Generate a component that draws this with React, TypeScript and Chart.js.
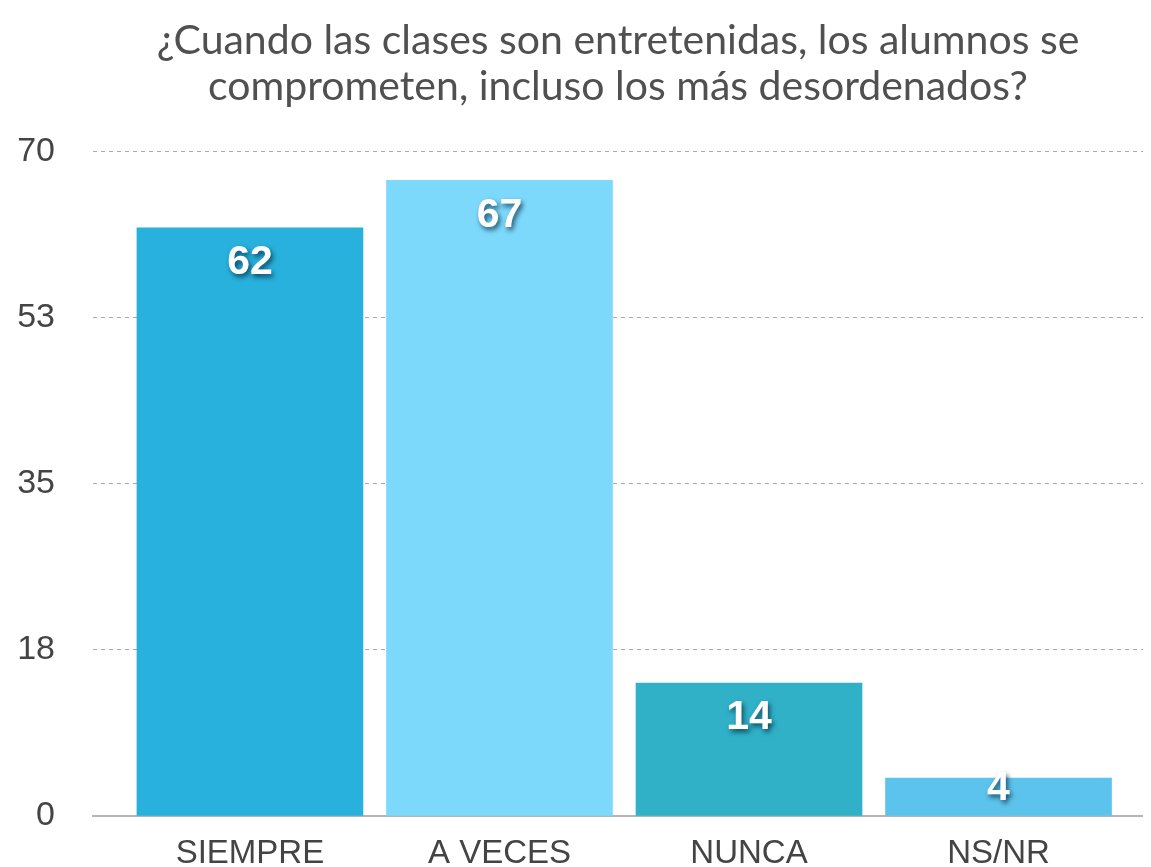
import React, { useEffect, useRef } from "react";
import { Chart, registerables } from "chart.js";

Chart.register(...registerables);

const titleLines = [
  "¿Cuando las clases son entretenidas, los alumnos se",
  "comprometen, incluso los más desordenados?",
];
const categories = ["SIEMPRE", "A VECES", "NUNCA", "NS/NR"];
const values = [62, 67, 14, 4];
const barColors = ["#27B1DC", "#7DD9FC", "#30B1C8", "#5CC4EC"];
const yTickValues = [0, 17.5, 35, 52.5, 70];

const valueLabelPlugin = {
  id: "valueLabels",
  afterDatasetsDraw(chart: any) {
    const ctx = chart.ctx;
    const meta = chart.getDatasetMeta(0);
    ctx.save();
    ctx.font = "bold 41px 'Liberation Sans', Arial, sans-serif";
    ctx.textAlign = "center";
    ctx.textBaseline = "middle";
    ctx.fillStyle = "#ffffff";
    ctx.shadowColor = "rgba(0,40,60,0.75)";
    ctx.shadowBlur = 5;
    ctx.shadowOffsetX = 2;
    ctx.shadowOffsetY = 3;
    meta.data.forEach((bar: any, i: number) => {
      const y = Math.min(bar.y + 35, bar.base - 27);
      ctx.fillText(String(values[i]), bar.x, y);
    });
    ctx.restore();
  },
};

export default function App() {
  const ref = useRef<HTMLCanvasElement | null>(null);
  useEffect(() => {
    if (!ref.current) return;
    const chart = new Chart(ref.current, {
      type: "bar",
      data: {
        datasets: [
          {
            data: values.map((v, i) => ({ x: i, y: v })),
            backgroundColor: barColors,
            barThickness: 226,
            borderWidth: 0,
          },
        ],
      },
      plugins: [valueLabelPlugin],
      options: {
        animation: false,
        responsive: true,
        maintainAspectRatio: false,
        layout: { padding: { top: 6, right: 0, bottom: 0, left: 0 } },
        plugins: {
          legend: { display: false },
          tooltip: { enabled: false },
          title: {
            display: true,
            text: titleLines,
            fullSize: false,
            color: "#505050",
            font: { family: "Lato, 'Open Sans', sans-serif", size: 41, weight: "normal", lineHeight: 1.12 },
            padding: { top: 4, bottom: 42 },
          },
        },
        scales: {
          x: {
            type: "linear",
            offset: false,
            min: -0.629,
            max: 3.579,
            afterBuildTicks: (axis: any) => {
              axis.ticks = categories.map((_, i) => ({ value: i }));
            },
            afterFit: (axis: any) => {
              axis.height = 60;
            },
            grid: { display: false, drawTicks: false, offset: false },
            border: { display: true, color: "#b4b4b4", width: 2 },
            ticks: {
              color: "#444444",
              padding: 18,
              font: { family: "'Liberation Sans', Arial, sans-serif", size: 33 },
              callback: (v: any) => categories[Math.round(Number(v))] ?? "",
              autoSkip: false,
              maxRotation: 0,
            },
          },
          y: {
            min: 0,
            max: 70,
            afterBuildTicks: (axis: any) => {
              axis.ticks = yTickValues.map((v) => ({ value: v }));
            },
            afterFit: (axis: any) => {
              axis.width = 85;
            },
            grid: {
              color: "#aaaaaa",
              lineWidth: 1,
              drawTicks: false,
            },
            border: { display: false, dash: [4, 4] },
            ticks: {
              color: "#444444",
              padding: 38,
              font: { family: "'Liberation Sans', Arial, sans-serif", size: 34 },
              callback: (v: any) => String(Math.round(Number(v))),
            },
          },
        },
      } as any,
    });
    return () => chart.destroy();
  }, []);
  return (
    <div style={{ position: "relative", width: "1135px", height: "868px" }}>
      <canvas ref={ref} />
    </div>
  );
}
